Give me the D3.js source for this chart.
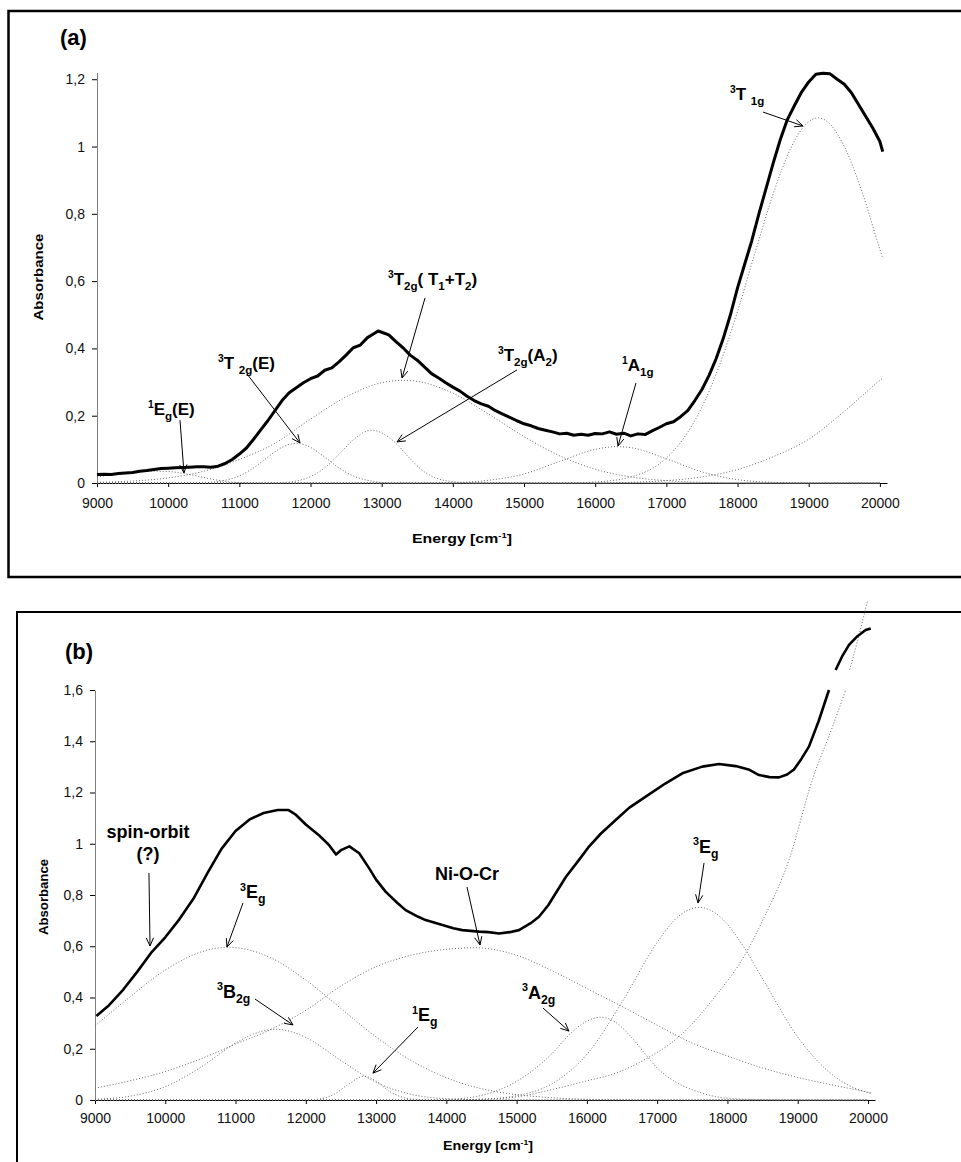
<!DOCTYPE html>
<html>
<head>
<meta charset="utf-8">
<script src="https://cdn.jsdelivr.net/npm/d3@7"></script>
<style>
body { margin: 0; background: #fff; }
svg text { font-family: "Liberation Sans", Arial, sans-serif; }
</style>
</head>
<body>
<div id="main"></div>
<script>
const xTicks = [9000, 10000, 11000, 12000, 13000, 14000, 15000, 16000, 17000, 18000, 19000, 20000];
const xTickLabels = ['9000', '10000', '11000', '12000', '13000', '14000', '15000', '16000', '17000', '18000', '19000', '20000'];
const aYTicks = [0, 0.2, 0.4, 0.6, 0.8, 1, 1.2];
const aYTickLabels = ['0', '0,2', '0,4', '0,6', '0,8', '1', '1,2'];
const bYTicks = [0, 0.2, 0.4, 0.6, 0.8, 1, 1.2, 1.4, 1.6];
const bYTickLabels = ['0', '0,2', '0,4', '0,6', '0,8', '1', '1,2', '1,4', '1,6'];

// (a) measured spectrum
const aMain = [[9000,0.025],[9100,0.026],[9200,0.025],[9300,0.028],[9400,0.03],[9500,0.031],[9600,0.035],[9700,0.037],[9800,0.04],[9900,0.043],[10000,0.044],[10100,0.045],[10200,0.046],[10300,0.047],[10400,0.048],[10500,0.048],[10600,0.047],[10700,0.05],[10800,0.058],[10900,0.07],[11000,0.086],[11100,0.104],[11200,0.13],[11300,0.158],[11400,0.185],[11500,0.215],[11600,0.245],[11700,0.268],[11800,0.283],[11900,0.298],[12000,0.31],[12100,0.318],[12200,0.335],[12300,0.342],[12400,0.36],[12500,0.38],[12600,0.402],[12700,0.41],[12800,0.432],[12900,0.445],[12950,0.452],[13000,0.448],[13100,0.44],[13200,0.42],[13300,0.402],[13400,0.38],[13500,0.365],[13600,0.345],[13700,0.325],[13800,0.312],[13900,0.298],[14000,0.285],[14100,0.273],[14200,0.258],[14300,0.245],[14400,0.235],[14500,0.228],[14600,0.215],[14700,0.205],[14800,0.195],[14900,0.185],[15000,0.176],[15100,0.17],[15200,0.162],[15300,0.157],[15400,0.152],[15500,0.146],[15600,0.148],[15700,0.142],[15800,0.145],[15900,0.142],[16000,0.147],[16100,0.146],[16200,0.152],[16300,0.145],[16400,0.148],[16500,0.14],[16600,0.146],[16700,0.144],[16800,0.155],[16900,0.165],[17000,0.176],[17100,0.182],[17200,0.197],[17300,0.215],[17400,0.245],[17500,0.278],[17600,0.32],[17700,0.37],[17800,0.43],[17900,0.5],[18000,0.58],[18100,0.65],[18200,0.72],[18300,0.8],[18400,0.875],[18500,0.95],[18600,1.02],[18700,1.08],[18800,1.122],[18900,1.162],[19000,1.192],[19100,1.215],[19200,1.218],[19300,1.216],[19400,1.2],[19500,1.185],[19600,1.16],[19700,1.125],[19800,1.09],[19900,1.055],[20000,1.015],[20040,0.985]];

// (a) fitted bands
const aEgE = [[9000,0.018],[9200,0.024],[9400,0.029],[9600,0.033],[9800,0.035],[10000,0.034],[10200,0.029],[10400,0.021],[10600,0.012],[10800,0.005],[11000,0.001],[11200,0],[20000,0]];
const aT2gE = [[9000,0],[10400,0],[10600,0.002],[10800,0.008],[11000,0.021],[11200,0.045],[11400,0.077],[11600,0.106],[11800,0.118],[12000,0.106],[12200,0.077],[12400,0.045],[12600,0.021],[12800,0.008],[13000,0.002],[13200,0],[20000,0]];
const aT2gA2 = [[9000,0],[11400,0],[11600,0.001],[11800,0.006],[12000,0.019],[12200,0.045],[12400,0.085],[12600,0.128],[12800,0.155],[12860,0.157],[13000,0.149],[13200,0.118],[13400,0.072],[13600,0.033],[13800,0.012],[14000,0.004],[14200,0.001],[14400,0],[20000,0]];
const aT2gT = [[9000,0.002],[9500,0.006],[10000,0.015],[10500,0.035],[11000,0.07],[11500,0.118],[12000,0.19],[12500,0.256],[13000,0.298],[13300,0.305],[13500,0.302],[14000,0.267],[14500,0.205],[15000,0.138],[15500,0.081],[16000,0.041],[16500,0.018],[17000,0.007],[17500,0.002],[18000,0],[20000,0]];
const aA1g = [[9000,0],[13500,0],[14000,0.001],[14500,0.008],[15000,0.027],[15500,0.064],[16000,0.1],[16300,0.108],[16500,0.105],[17000,0.072],[17500,0.033],[18000,0.01],[18500,0.002],[19000,0],[20000,0]];
const aT1g = [[9000,0],[15500,0],[16000,0.003],[16500,0.018],[17000,0.074],[17250,0.135],[17500,0.226],[17750,0.352],[18000,0.51],[18250,0.687],[18500,0.859],[18750,0.996],[19000,1.074],[19130,1.085],[19250,1.076],[19500,1.0],[19750,0.865],[20000,0.694],[20040,0.668]];
const aHigh = [[9000,0],[16000,0],[16500,0.002],[17000,0.007],[17500,0.018],[18000,0.04],[18500,0.078],[19000,0.13],[19500,0.213],[20000,0.305],[20040,0.312]];

// (b) measured spectrum (null = gap in the trace)
const bMain = [[9020,0.328],[9200,0.37],[9400,0.43],[9600,0.5],[9800,0.575],[10000,0.635],[10200,0.705],[10400,0.785],[10600,0.885],[10800,0.98],[11000,1.05],[11200,1.095],[11400,1.12],[11600,1.132],[11750,1.132],[11850,1.115],[12000,1.075],[12200,1.03],[12330,0.995],[12430,0.958],[12500,0.975],[12620,0.99],[12760,0.963],[12900,0.905],[13000,0.86],[13135,0.813],[13300,0.77],[13420,0.741],[13600,0.715],[13705,0.702],[13943,0.683],[14100,0.67],[14227,0.663],[14465,0.657],[14600,0.655],[14750,0.65],[14900,0.655],[15034,0.663],[15200,0.69],[15318,0.715],[15450,0.76],[15556,0.807],[15700,0.87],[15888,0.937],[16030,0.989],[16200,1.04],[16410,1.093],[16600,1.14],[16837,1.184],[17121,1.236],[17358,1.275],[17642,1.301],[17880,1.311],[18117,1.303],[18300,1.29],[18450,1.268],[18600,1.26],[18734,1.259],[18850,1.27],[18947,1.29],[19050,1.33],[19160,1.379],[19300,1.48],[19445,1.6],[19490,null],[19540,1.678],[19630,1.73],[19730,1.776],[19850,1.81],[19967,1.834],[20040,1.84]];

// (b) fitted bands
const b3EgL = [[9000,0.289],[9500,0.403],[10000,0.507],[10500,0.577],[10700,0.591],[10900,0.596],[11200,0.585],[11500,0.555],[12000,0.468],[12500,0.357],[13000,0.246],[13500,0.154],[14000,0.087],[14500,0.044],[15000,0.021],[15500,0.009],[16000,0.003],[16500,0.001],[17000,0],[20000,0]];
const b3B2g = [[9000,0.003],[9500,0.015],[10000,0.052],[10500,0.127],[11000,0.222],[11300,0.262],[11570,0.276],[11800,0.266],[12000,0.244],[12500,0.154],[13000,0.069],[13500,0.022],[14000,0.005],[14500,0.001],[15000,0],[20000,0]];
const b1Eg = [[9000,0],[12000,0],[12200,0.004],[12400,0.022],[12600,0.06],[12830,0.093],[13000,0.074],[13200,0.032],[13400,0.009],[13600,0.002],[13800,0],[20000,0]];
const bNiOCr = [[9000,0.046],[9500,0.075],[10000,0.111],[10500,0.16],[11000,0.218],[11500,0.275],[12000,0.35],[12500,0.445],[13000,0.52],[13500,0.565],[14000,0.588],[14400,0.594],[15000,0.565],[15500,0.505],[16000,0.435],[16500,0.365],[17000,0.292],[17500,0.222],[18000,0.172],[18500,0.125],[19000,0.088],[19500,0.058],[20000,0.03],[20060,0.026]];
const b3A2g = [[9000,0],[13500,0],[14000,0.002],[14500,0.018],[15000,0.073],[15500,0.18],[15750,0.255],[16000,0.308],[16200,0.323],[16400,0.305],[16600,0.255],[16800,0.19],[17000,0.125],[17250,0.072],[17500,0.04],[17750,0.018],[18000,0.007],[18500,0.001],[19000,0],[20000,0]];
const b3EgR = [[9000,0],[14000,0],[14500,0.003],[15000,0.017],[15500,0.063],[16000,0.178],[16500,0.382],[17000,0.615],[17300,0.716],[17595,0.752],[17900,0.714],[18200,0.611],[18500,0.473],[19000,0.246],[19500,0.097],[20000,0.029],[20060,0.025]];
const bHigh = [[9000,0],[14000,0],[14500,0.003],[15000,0.012],[15414,0.035],[16000,0.075],[16362,0.1],[16837,0.16],[17311,0.247],[17785,0.39],[18260,0.572],[18500,0.7],[18876,0.937],[19208,1.249],[19500,1.46],[19682,1.6],[19710,null],[19740,1.68],[19850,1.79],[19990,1.945]];

// annotations: text start, arrow start, arrow tip (data units)
const aNotes = [
    {parts: [['1','sup'],['E',''],['g','sub'],['(E)','']], at: [9717,0.202], from: [10166,0.187], to: [10222,0.030]},
    {parts: [['3','sup'],['T ',''],['2g','sub'],['(E)','']], at: [10700,0.339], from: [11108,0.324], to: [11852,0.119]},
    {parts: [['3','sup'],['T',''],['2g','sub'],['( T',''],['1','sub'],['+T',''],['2','sub'],[')','']], at: [13089,0.588], from: [13609,0.55], to: [13286,0.312]},
    {parts: [['3','sup'],['T',''],['2g','sub'],['(A',''],['2','sub'],[')','']], at: [14634,0.3626], from: [14901,0.336], to: [13215,0.122]},
    {parts: [['1','sup'],['A',''],['1g','sub']], at: [16377,0.333], from: [16573,0.297], to: [16321,0.11]},
    {parts: [['3','sup'],['T ',''],['1g','sub']], at: [17894,1.138], from: [18358,1.1025], to: [18920,1.061]}
];
const bNotes = [
    {parts: [['spin-orbit','']], at: [9754,1.0224], anchor: 'middle'},
    {parts: [['(?)','']], at: [9754,0.937], from: [9768,0.886], to: [9783,0.601], anchor: 'middle'},
    {parts: [['3','sup'],['E',''],['g','sub']], at: [11064,0.788], from: [11106,0.769], to: [10878,0.597]},
    {parts: [['3','sup'],['B',''],['2g','sub']], at: [10736,0.398], from: [11277,0.394], to: [11818,0.293]},
    {parts: [['1','sup'],['E',''],['g','sub']], at: [13511,0.308], from: [13597,0.285], to: [12956,0.105]},
    {parts: [['Ni-O-Cr','']], at: [13839,0.8585], from: [14294,0.831], to: [14479,0.605]},
    {parts: [['3','sup'],['A',''],['2g','sub']], at: [15077,0.394], from: [15375,0.359], to: [15745,0.269]},
    {parts: [['3','sup'],['E',''],['g','sub']], at: [17510,0.964], from: [17667,0.925], to: [17581,0.769]}
];

let svg = d3.select('#main').append('svg').attr('width', 961).attr('height', 1162);

drawPanel({
    frame: 'M961,11H8.5V577H961', frameWidth: 2.5,
    xRange: [97, 887], yRange: [483, 72.5], yDomain: [0, 1.22],
    yTicks: aYTicks, yLabels: aYTickLabels, xPad: 11,
    main: aMain, mainWidth: 3,
    bands: [aEgE, aT2gE, aT2gA2, aT2gT, aA1g, aT1g, aHigh],
    notes: aNotes, noteSize: 17,
    tag: '(a)', tagPos: [60, 45],
    xTitlePos: [462, 543], xTitleLen: 100,
    yTitlePos: [43, 277], yTitleLen: 87
});

drawPanel({
    frame: 'M961,612H17V1162', frameWidth: 2,
    xRange: [95, 875], yRange: [1100, 690], yDomain: [0, 1.6],
    yTicks: bYTicks, yLabels: bYTickLabels, xPad: 9,
    main: bMain, mainWidth: 2.6,
    bands: [b3EgL, b3B2g, b1Eg, bNiOCr, b3A2g, b3EgR, bHigh],
    notes: bNotes, noteSize: 18,
    tag: '(b)', tagPos: [65, 659],
    xTitlePos: [488, 1150], xTitleLen: 90,
    yTitlePos: [48, 897], yTitleLen: 76
});

function drawPanel(p){

    let g = svg.append('g');

    g.append('path').attr('d', p.frame)
        .attr('fill', 'none').attr('stroke', '#000').attr('stroke-width', p.frameWidth);

    let x = d3.scaleLinear().domain([9000, 20100]).range(p.xRange);
    let y = d3.scaleLinear().domain(p.yDomain).range(p.yRange);

    let xAxis = g.append('g')
        .attr('transform', `translate(0,${p.yRange[0]})`)
        .call(d3.axisBottom(x).tickValues(xTicks).tickFormat((d, i) => xTickLabels[i])
            .tickSizeInner(4).tickSizeOuter(0).tickPadding(p.xPad));
    xAxis.select('.domain').attr('stroke', '#000');
    xAxis.selectAll('text').attr('font-size', 14).attr('fill', '#111')
        .attr('font-family', '"Liberation Sans", Arial, sans-serif');

    let yAxis = g.append('g')
        .attr('transform', `translate(${p.xRange[0]},0)`)
        .call(d3.axisLeft(y).tickValues(p.yTicks).tickFormat((d, i) => p.yLabels[i])
            .tickSizeInner(5).tickSizeOuter(0).tickPadding(7));
    yAxis.select('.domain').attr('stroke', '#808080');
    yAxis.selectAll('text').attr('font-size', 14).attr('fill', '#111')
        .attr('font-family', '"Liberation Sans", Arial, sans-serif');

    let bandLine = d3.line()
        .defined(d => d[1] !== null)
        .x(d => x(d[0])).y(d => y(d[1]))
        .curve(d3.curveMonotoneX);

    g.selectAll('path.band').data(p.bands).enter()
        .append('path').classed('band', true)
        .attr('d', bandLine)
        .attr('fill', 'none').attr('stroke', '#6a6a6a')
        .attr('stroke-width', 1).attr('stroke-dasharray', '1 2');

    let mainLine = d3.line()
        .defined(d => d[1] !== null)
        .x(d => x(d[0])).y(d => y(d[1]));

    g.append('path').datum(p.main)
        .attr('d', mainLine)
        .attr('fill', 'none').attr('stroke', '#000')
        .attr('stroke-width', p.mainWidth).attr('stroke-linejoin', 'round');

    p.notes.forEach(n => {
        richText(g, x(n.at[0]), y(n.at[1]), n.parts, p.noteSize, n.anchor);
        if (n.from) arrow(g, x(n.from[0]), y(n.from[1]), x(n.to[0]), y(n.to[1]));
    });

    g.append('text').attr('x', p.tagPos[0]).attr('y', p.tagPos[1])
        .attr('font-size', 22).attr('font-weight', 'bold').text(p.tag);

    let xt = richText(g, p.xTitlePos[0], p.xTitlePos[1],
        [['Energy [cm',''],['-1','sup'],[']','']], 13, 'middle');
    xt.attr('textLength', p.xTitleLen).attr('lengthAdjust', 'spacingAndGlyphs');

    g.append('text')
        .attr('transform', `translate(${p.yTitlePos[0]},${p.yTitlePos[1]}) rotate(-90)`)
        .attr('text-anchor', 'middle').attr('font-size', 12).attr('font-weight', 'bold')
        .attr('textLength', p.yTitleLen).attr('lengthAdjust', 'spacingAndGlyphs')
        .text('Absorbance');
}

function richText(g, tx, ty, parts, size, anchor){

    let t = g.append('text').attr('x', tx).attr('y', ty)
        .attr('font-size', size).attr('font-weight', 'bold')
        .attr('text-anchor', anchor || 'start').attr('fill', '#000');

    let shift = 0;
    parts.forEach(([s, kind]) => {
        let target = kind === 'sup' ? -0.42 * size : kind === 'sub' ? 0.28 * size : 0;
        let fs = kind === 'sup' ? size * 0.6 : kind === 'sub' ? size * 0.68 : size;
        t.append('tspan').attr('dy', target - shift).attr('font-size', fs)
            .style('white-space', 'pre').text(s);
        shift = target;
    });
    return t;
}

function arrow(g, x1, y1, x2, y2){

    let a = Math.atan2(y2 - y1, x2 - x1);
    let len = 9, spread = 0.42;
    g.append('line').attr('x1', x1).attr('y1', y1).attr('x2', x2).attr('y2', y2)
        .attr('stroke', '#000').attr('stroke-width', 1);
    [-spread, spread].forEach(s => {
        g.append('line').attr('x1', x2).attr('y1', y2)
            .attr('x2', x2 - len * Math.cos(a + s)).attr('y2', y2 - len * Math.sin(a + s))
            .attr('stroke', '#000').attr('stroke-width', 1);
    });
}
</script>
</body>
</html>
